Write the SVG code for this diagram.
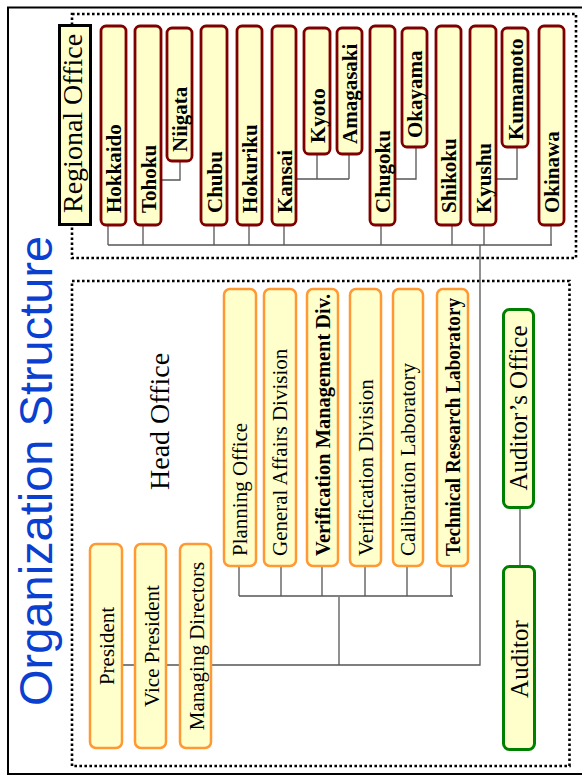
<svg xmlns="http://www.w3.org/2000/svg" width="582" height="776" viewBox="0 0 582 776">
<style>
.frame{fill:none;stroke:#000;stroke-width:2}
.dot{fill:none;stroke:#000;stroke-width:2.6;stroke-dasharray:2.6 2.4}
.reg rect{fill:#ffffcc;stroke:#7f0000;stroke-width:2.8}
.reg text{font-family:"Liberation Serif",serif;font-weight:bold;font-size:21px;fill:#000}
.hq rect{fill:#ffffcc;stroke:#ff9933;stroke-width:2.5}
.hq text{font-family:"Liberation Serif",serif;font-size:21px;fill:#000}
.aud rect{fill:#ffffcc;stroke:#008000;stroke-width:3}
.aud text{font-family:"Liberation Serif",serif;font-size:25px;fill:#000;text-anchor:middle}
.conn{fill:none;stroke:#555;stroke-width:1.3}
</style>
<rect class="frame" x="8" y="7.5" width="590" height="766.5"/>
<text transform="translate(52,706) rotate(-90)" font-family="Liberation Sans, Arial, sans-serif" font-size="47" fill="#0a3fd0">Organization Structure</text>

<rect class="dot" x="72" y="14" width="504" height="244"/>
<rect class="dot" x="72" y="281" width="497.5" height="485"/>

<g id="regional-office-label">
<rect x="59.5" y="25.5" width="31" height="199" fill="#ffffcc" stroke="#000" stroke-width="3"/>
<text transform="translate(82,213) rotate(-90)" font-family="Liberation Serif, serif" font-size="28">Regional Office</text>
</g>
<text id="head-office-label" transform="translate(169,490) rotate(-90)" font-family="Liberation Serif, serif" font-size="28">Head Office</text>

<g id="connectors" class="conn">
<path d="M108 226V245M143 226V245M214 226V245M249 226V245M284 226V245M381 226V245M452 226V245M484 226V245M551 226V245M108 245H552"/>
<path d="M162 180H180V162"/>
<path d="M297 179H349M317 155V179M349 155V179"/>
<path d="M396 179H416V148"/>
<path d="M497 179H517V148"/>
<path d="M480 245V665H212"/>
<path d="M123 665H134M167 665H179"/>
<path d="M239 567V596M281 567V596M322 567V596M365 567V596M407 567V596M451 567V596M239 596H453"/>
<path d="M339 597V665"/>
<path d="M520 509V565"/>
</g>

<g id="hokkaido" class="reg"><rect x="101" y="26" width="25" height="199" rx="5"/><text transform="translate(121,213) rotate(-90)">Hokkaido</text></g>
<g id="tohoku" class="reg"><rect x="135" y="26" width="26" height="199" rx="5"/><text transform="translate(155.5,213) rotate(-90)">Tohoku</text></g>
<g id="niigata" class="reg"><rect x="167" y="28" width="25" height="133" rx="5"/><text transform="translate(187,152) rotate(-90)">Niigata</text></g>
<g id="chubu" class="reg"><rect x="201" y="26" width="26" height="199" rx="5"/><text transform="translate(221.5,213) rotate(-90)">Chubu</text></g>
<g id="hokuriku" class="reg"><rect x="237" y="26" width="25" height="199" rx="5"/><text transform="translate(257,213) rotate(-90)">Hokuriku</text></g>
<g id="kansai" class="reg"><rect x="272" y="26" width="24" height="199" rx="5"/><text transform="translate(291.5,213) rotate(-90)">Kansai</text></g>
<g id="kyoto" class="reg"><rect x="304" y="28" width="26" height="126" rx="5"/><text transform="translate(324.5,143) rotate(-90)">Kyoto</text></g>
<g id="amagasaki" class="reg"><rect x="337" y="28" width="25" height="126" rx="5"/><text transform="translate(357,144) rotate(-90)">Amagasaki</text></g>
<g id="chugoku" class="reg"><rect x="370" y="26" width="25" height="199" rx="5"/><text transform="translate(390,213) rotate(-90)">Chugoku</text></g>
<g id="okayama" class="reg"><rect x="402" y="28" width="25" height="119" rx="5"/><text transform="translate(422,138) rotate(-90)">Okayama</text></g>
<g id="shikoku" class="reg"><rect x="436" y="26" width="25" height="199" rx="5"/><text transform="translate(456,213) rotate(-90)">Shikoku</text></g>
<g id="kyushu" class="reg"><rect x="470" y="26" width="26" height="199" rx="5"/><text transform="translate(490.5,213) rotate(-90)">Kyushu</text></g>
<g id="kumamoto" class="reg"><rect x="502" y="28" width="26" height="119" rx="5"/><text transform="translate(522.5,140) rotate(-90)">Kumamoto</text></g>
<g id="okinawa" class="reg"><rect x="539" y="26" width="25" height="199" rx="5"/><text transform="translate(559,213) rotate(-90)">Okinawa</text></g>

<g id="planning-office" class="hq"><rect x="224" y="289" width="32" height="277" rx="6"/><text transform="translate(247,556) rotate(-90)">Planning Office</text></g>
<g id="general-affairs" class="hq"><rect x="264" y="289" width="32" height="277" rx="6"/><text transform="translate(287,556) rotate(-90)">General Affairs Division</text></g>
<g id="verification-management" class="hq"><rect x="307" y="289" width="31" height="277" rx="6"/><text transform="translate(329.5,556) rotate(-90)" font-weight="bold" font-size="20" textLength="262" lengthAdjust="spacingAndGlyphs">Verification Management Div.</text></g>
<g id="verification-division" class="hq"><rect x="350" y="289" width="31" height="277" rx="6"/><text transform="translate(372.5,556) rotate(-90)">Verification Division</text></g>
<g id="calibration-lab" class="hq"><rect x="393" y="289" width="30" height="277" rx="6"/><text transform="translate(415,556) rotate(-90)">Calibration Laboratory</text></g>
<g id="technical-research-lab" class="hq"><rect x="437" y="289" width="31" height="277" rx="6"/><text transform="translate(459.5,556) rotate(-90)" font-weight="bold" font-size="19.5" textLength="258" lengthAdjust="spacingAndGlyphs">Technical Research Laboratory</text></g>

<g id="president" class="hq"><rect x="90" y="544" width="32" height="204" rx="6"/><text transform="translate(114,646) rotate(-90)" text-anchor="middle" font-size="23">President</text></g>
<g id="vice-president" class="hq"><rect x="135" y="544" width="31" height="204" rx="6"/><text transform="translate(158.5,646) rotate(-90)" text-anchor="middle" font-size="23">Vice President</text></g>
<g id="managing-directors" class="hq"><rect x="180" y="544" width="31" height="204" rx="6"/><text transform="translate(203.5,646) rotate(-90)" text-anchor="middle" font-size="23">Managing Directors</text></g>

<g id="auditors-office" class="aud"><rect x="503.5" y="309.5" width="30" height="198" rx="6"/><text transform="translate(527,408) rotate(-90)">Auditor’s Office</text></g>
<g id="auditor" class="aud"><rect x="503.5" y="566.5" width="31" height="183" rx="6"/><text transform="translate(527.5,659) rotate(-90)">Auditor</text></g>
</svg>
